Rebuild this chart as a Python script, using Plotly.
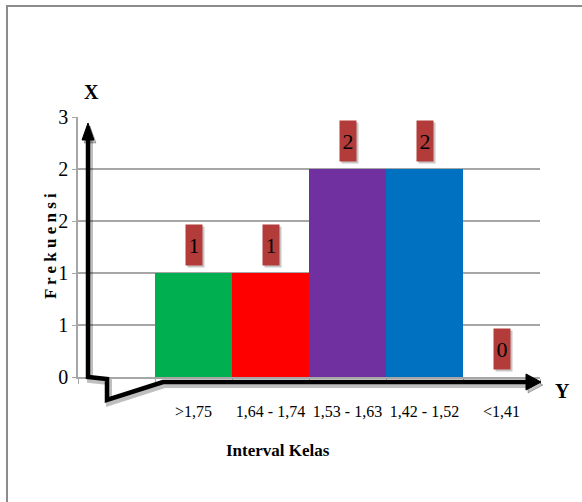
import plotly.graph_objects as go

# ---- data ----
categories = [">1,75", "1,64 - 1,74", "1,53 - 1,63", "1,42 - 1,52", "<1,41"]
frekuensi = [1, 1, 2, 2, 0]
bar_colors = ["#00b050", "#ff0000", "#7030a0", "#0070c0", "#c0504d"]
y_tickvals = [0, 0.5, 1, 1.5, 2, 2.5]
y_ticktext = ["0", "1", "1", "2", "2", "3"]

x_pos = list(range(1, len(categories) + 1))

W, H = 582, 502
L, R, T, B = 78, 42, 117, 125
PW, PH = W - L - R, H - T - B


def px(x):
    return (x - L) / PW


def py(y):
    return (H - B - y) / PH


SERIF = "'Liberation Serif', 'Times New Roman', serif"

fig = go.Figure()
fig.add_trace(go.Bar(
    x=x_pos, y=frekuensi, width=1,
    marker=dict(color=bar_colors, line=dict(width=0)),
    showlegend=False, hoverinfo="skip",
))

ann = []
# value label boxes (with shadow)
for xi, v in zip(x_pos, frekuensi):
    ann.append(dict(x=xi, y=v, xref="x", yref="y", text=" ", showarrow=False,
                    xanchor="center", yanchor="bottom", yshift=5, xshift=2, width=16, height=40,
                    bgcolor="rgba(0,0,0,0.22)", borderpad=0))
    ann.append(dict(x=xi, y=v, xref="x", yref="y", text=str(v), showarrow=False,
                    xanchor="center", yanchor="bottom", yshift=7, width=16, height=40,
                    bgcolor="#b33c3a", borderpad=0,
                    font=dict(family=SERIF, size=22, color="#000000")))


def text_ann(x, y, text, size, angle=0):
    return dict(x=px(x), y=py(y), xref="paper", yref="paper", text=text,
                xanchor="center", yanchor="middle", textangle=angle,
                showarrow=False, font=dict(family=SERIF, size=size, color="#000"))


ann += [
    text_ann(91, 92, "<b>X</b>", 20),
    text_ann(562, 391, "<b>Y</b>", 20),
    text_ann(50, 246, "<b>" + " ".join("Frekuensi") + "</b>", 17, -90),
    text_ann(278, 450, "<b>Interval Kelas</b>", 17),
]

shapes = []
# outer chart border
shapes.append(dict(type="rect", xref="paper", yref="paper",
                   x0=px(7), y0=py(520), x1=px(600), y1=py(6),
                   line=dict(color="#8c8c8c", width=2), fillcolor="rgba(0,0,0,0)", layer="below"))


def poly(pts):
    return "M " + " L ".join(f"{px(a):.5f},{py(b):.5f}" for a, b in pts)


axis_path = [(88, 135), (88, 377), (107, 379), (107, 400), (163, 382), (530, 382)]
head_up = [(82, 140), (88, 123), (94, 140)]
head_right = [(526, 374), (541, 382), (526, 390)]

# shadows
shapes.append(dict(type="path", xref="paper", yref="paper",
                   path=poly([(a + 2, b + 3) for a, b in axis_path]),
                   line=dict(color="rgba(0,0,0,0.25)", width=6)))
for hd in (head_up, head_right):
    shapes.append(dict(type="path", xref="paper", yref="paper",
                       path=poly([(a + 2, b + 3) for a, b in hd]) + " Z",
                       line=dict(color="rgba(0,0,0,0.25)", width=1),
                       fillcolor="rgba(0,0,0,0.25)"))
shapes.append(dict(type="path", xref="paper", yref="paper", path=poly(axis_path),
                   line=dict(color="#000000", width=4.5)))
for hd in (head_up, head_right):
    shapes.append(dict(type="path", xref="paper", yref="paper", path=poly(hd) + " Z",
                       line=dict(color="#000000", width=1), fillcolor="#000000"))

fig.update_layout(
    width=W, height=H,
    margin=dict(l=L, r=R, t=T, b=B, autoexpand=False),
    paper_bgcolor="#ffffff", plot_bgcolor="#ffffff",
    bargap=0,
    annotations=ann, shapes=shapes,
    xaxis=dict(range=[-0.5, len(categories) + 0.5], tickvals=x_pos, ticktext=categories,
               showgrid=False, zeroline=False, showline=True, linecolor="#a6a6a6", linewidth=1.5,
               ticks="", ticklabelstandoff=19,
               minor=dict(tickvals=[i + 0.5 for i in range(-1, len(categories) + 1)],
                          ticks="outside", ticklen=5, tickcolor="#a6a6a6", showgrid=False),
               tickfont=dict(family=SERIF, size=16, color="#000")),
    yaxis=dict(range=[0, 2.5], tickvals=y_tickvals, ticktext=y_ticktext,
               showgrid=True, gridcolor="#a6a6a6", gridwidth=1.5, zeroline=False,
               showline=True, linecolor="#a6a6a6", linewidth=1.5,
               ticks="outside", ticklen=4, tickcolor="#a6a6a6",
               tickfont=dict(family=SERIF, size=20, color="#000")),
)

fig.write_html("out.html")
